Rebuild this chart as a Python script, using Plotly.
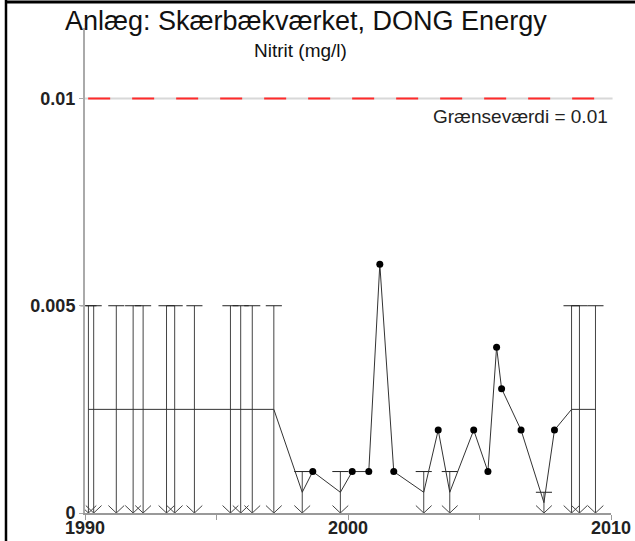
import plotly.graph_objects as go

# ---- data ----
meas_year = [1998.66, 2000.16, 2000.79, 2001.21, 2001.74, 2003.43, 2004.78, 2005.32,
             2005.65, 2005.84, 2006.58, 2007.85]
meas_val = [0.001, 0.001, 0.001, 0.006, 0.001, 0.002, 0.002, 0.001,
            0.004, 0.003, 0.002, 0.002]
dl_year = [1990.13, 1990.33, 1991.19, 1991.83, 1992.21, 1993.10, 1993.41, 1994.16,
           1995.53, 1995.92, 1996.36, 1997.18, 1998.26, 1999.71, 2002.88, 2003.87,
           2007.45, 2008.50, 2008.80, 2009.41]
dl_val = [0.005, 0.005, 0.005, 0.005, 0.005, 0.005, 0.005, 0.005,
          0.005, 0.005, 0.005, 0.005, 0.001, 0.001, 0.001, 0.001,
          0.0005, 0.005, 0.005, 0.005]
limit_value = 0.01
x_ticks = [1990, 1995, 2000, 2005, 2010]
x_ticktext = ["1990", "", "2000", "", "2010"]
y_ticks = [0, 0.005, 0.01]
y_ticktext = ["0", "0.005", "0.01"]
title_text = "Anlæg: Skærbækværket, DONG Energy"
subtitle_text = "Nitrit (mg/l)"
limit_text = "Grænseværdi = 0.01"

# ---- styles ----
FONT = "Liberation Sans, Arial, sans-serif"
HW = 0.30        # half width of caps / arrows (years)
ARROW_DY = 0.00018

# combined series: measured values and half detection limits
series = sorted([(x, v) for x, v in zip(meas_year, meas_val)] +
                [(x, d / 2) for x, d in zip(dl_year, dl_val)])
line_x = [p[0] for p in series]
line_y = [p[1] for p in series]

# detection-limit glyphs
gx, gy = [], []
for x, d in zip(dl_year, dl_val):
    gx += [x, x, None, x - HW, x, x + HW, None]
    gy += [d, 0, None, ARROW_DY, 0, ARROW_DY, None]

fig = go.Figure()
fig.add_trace(go.Scatter(x=gx, y=gy, mode="lines",
                         line=dict(color="#444", width=1), hoverinfo="skip"))
fig.add_trace(go.Scatter(x=dl_year, y=dl_val, mode="markers", cliponaxis=False,
                         marker=dict(symbol="line-ew", size=11.5,
                                     line=dict(color="#222", width=1))))
fig.add_trace(go.Scatter(x=line_x, y=line_y, mode="lines",
                         line=dict(color="#333", width=1)))
fig.add_trace(go.Scatter(x=meas_year, y=meas_val, mode="markers", cliponaxis=False,
                         marker=dict(color="black", size=7)))

shapes = [
    dict(type="line", xref="paper", yref="y", x0=0, x1=1.003, y0=limit_value, y1=limit_value,
         line=dict(color="#d8d8d8", width=2), layer="below"),
    dict(type="line", xref="x", yref="y", x0=1990.12, x1=2009.4, y0=limit_value, y1=limit_value,
         line=dict(color="#ff2a2a", width=2, dash="22px,22px")),
    dict(type="line", xref="paper", yref="paper", x0=-0.1502, x1=1.1, y0=1.0536, y1=1.0536,
         line=dict(color="black", width=3), layer="above"),
    dict(type="line", xref="paper", yref="paper", x0=-0.1502, x1=-0.1502, y0=-0.1, y1=1.06,
         line=dict(color="black", width=2.5), layer="above"),
]

annotations = [
    dict(text=title_text, xref="paper", yref="paper", x=0.42, y=1.0144,
         xanchor="center", yanchor="middle", showarrow=False,
         font=dict(family=FONT, size=27, color="#111")),
    dict(text=subtitle_text, xref="paper", yref="paper", x=0.409, y=0.9546,
         xanchor="center", yanchor="middle", showarrow=False,
         font=dict(family=FONT, size=19, color="#111")),
    dict(text=limit_text, xref="paper", yref="y", x=0.998, y=0.00957,
         xanchor="right", yanchor="middle", showarrow=False,
         font=dict(family=FONT, size=19, color="#222")),
]

fig.update_layout(
    width=635, height=541,
    margin=dict(l=85, r=24, t=28, b=28, autoexpand=False),
    paper_bgcolor="white", plot_bgcolor="white",
    showlegend=False,
    shapes=shapes, annotations=annotations,
    xaxis=dict(range=[1990, 2010], showgrid=False, zeroline=False,
               showline=True, linecolor="#999", linewidth=1.5,
               ticks="outside", ticklen=5, tickcolor="#999",
               tickvals=x_ticks, ticktext=x_ticktext, ticklabelstandoff=-7,
               tickfont=dict(family=FONT, size=18, color="#222", weight="bold")),
    yaxis=dict(range=[0, 0.0117], showgrid=False, zeroline=False,
               showline=True, linecolor="#aaa", linewidth=2,
               ticks="outside", ticklen=4, tickcolor="#aaa",
               tickvals=y_ticks, ticktext=y_ticktext,
               tickfont=dict(family=FONT, size=18, color="#222", weight="bold")),
)

fig.write_html("out.html", config={"displayModeBar": False},
               post_script="document.body.style.margin='0';")
